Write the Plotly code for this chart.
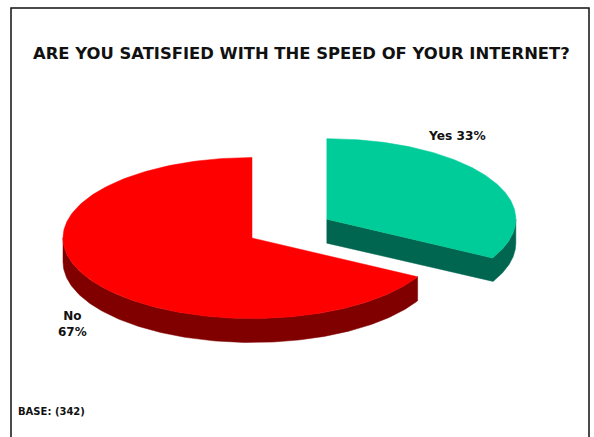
import numpy as np
import plotly.graph_objects as go

categories = ["Yes", "No"]
shares = [33, 67]
base_count = 342
title = "ARE YOU SATISFIED WITH THE SPEED OF YOUR INTERNET?"

top_colors = {"Yes": "#00CC99", "No": "#FF0000"}
wall_colors = {"Yes": "#006650", "No": "#800000"}

WIDTH, HEIGHT = 594, 437
CENTER_X, CENTER_Y = 252, 238
RADIUS_X, RADIUS_Y = 189, 80.5
DEPTH = 24
EXPLODE = 0.46  # share of the radius that the Yes slice is pulled out
FONT = "DejaVu Sans"


def rim(start, end, cx, cy):
    t = np.radians(np.linspace(start, end, 200))
    return cx + RADIUS_X * np.cos(t), cy - RADIUS_Y * np.sin(t)


def add_poly(fig, x, y, color, name):
    fig.add_trace(
        go.Scatter(
            x=x,
            y=y,
            mode="lines",
            fill="toself",
            fillcolor=color,
            line={"color": color, "width": 0.5},
            name=name,
            hoverinfo="name",
        )
    )


fig = go.Figure()

# slices run clockwise from 12 o'clock
start = 90.0
for category, share in zip(categories, shares):
    end = start - share * 3.6
    mid = np.radians((start + end) / 2)
    explode = EXPLODE if category == "Yes" else 0
    cx = CENTER_X + explode * RADIUS_X * np.cos(mid)
    cy = CENTER_Y - explode * RADIUS_Y * np.sin(mid)

    # front wall, only where the rim faces the viewer
    if category == "Yes":
        # cut face from the centre out to the rim, then the short rim wall
        wall_x, wall_y = rim(end, 0, cx, cy)
        x = np.concatenate([[cx], wall_x, wall_x[::-1], [cx], [cx]])
        y = np.concatenate([[cy + DEPTH], wall_y + DEPTH, wall_y[::-1], [cy], [cy + DEPTH]])
    else:
        wall_x, wall_y = rim(180, 360 + start, cx, cy)
        x = np.concatenate([wall_x, wall_x[::-1], wall_x[:1]])
        y = np.concatenate([wall_y, wall_y[::-1] + DEPTH, wall_y[:1]])
    add_poly(fig, x, y, wall_colors[category], f"{category} side")

    top_x, top_y = rim(start, end, cx, cy)
    add_poly(
        fig,
        np.concatenate([[cx], top_x, [cx]]),
        np.concatenate([[cy], top_y, [cy]]),
        top_colors[category],
        f"{category} {share}%",
    )
    start = end

fig.add_shape(
    type="path",
    path=f"M 11 {HEIGHT} L 11 8 L 589 8 L 589 {HEIGHT}",
    line={"color": "#111111", "width": 1.5},
)

annotations = [
    (301, 53, title, 16.4, "center"),
    (457, 136, f"{categories[0]} {shares[0]}%", 12.2, "center"),
    (72, 324, f"{categories[1]}<br>{shares[1]}%", 12, "center"),
    (16, 411, f"BASE: ({base_count})", 10, "left"),
]
for x, y, text, size, anchor in annotations:
    fig.add_annotation(
        x=x,
        y=y,
        text=f"<b>{text}</b>",
        showarrow=False,
        xanchor=anchor,
        yanchor="middle",
        align="center",
        font={"family": FONT, "size": size, "color": "#111111"},
    )

fig.update_layout(
    width=WIDTH,
    height=HEIGHT,
    margin={"l": 0, "r": 0, "t": 0, "b": 0},
    paper_bgcolor="white",
    plot_bgcolor="white",
    showlegend=False,
    xaxis={"range": [0, WIDTH], "visible": False, "fixedrange": True},
    yaxis={"range": [HEIGHT, 0], "visible": False, "fixedrange": True},
)

# the page's default body margin would push the figure off by 8px
fig.write_html(
    "out.html",
    config={"displayModeBar": False},
    post_script="document.body.style.margin = '0';",
)
